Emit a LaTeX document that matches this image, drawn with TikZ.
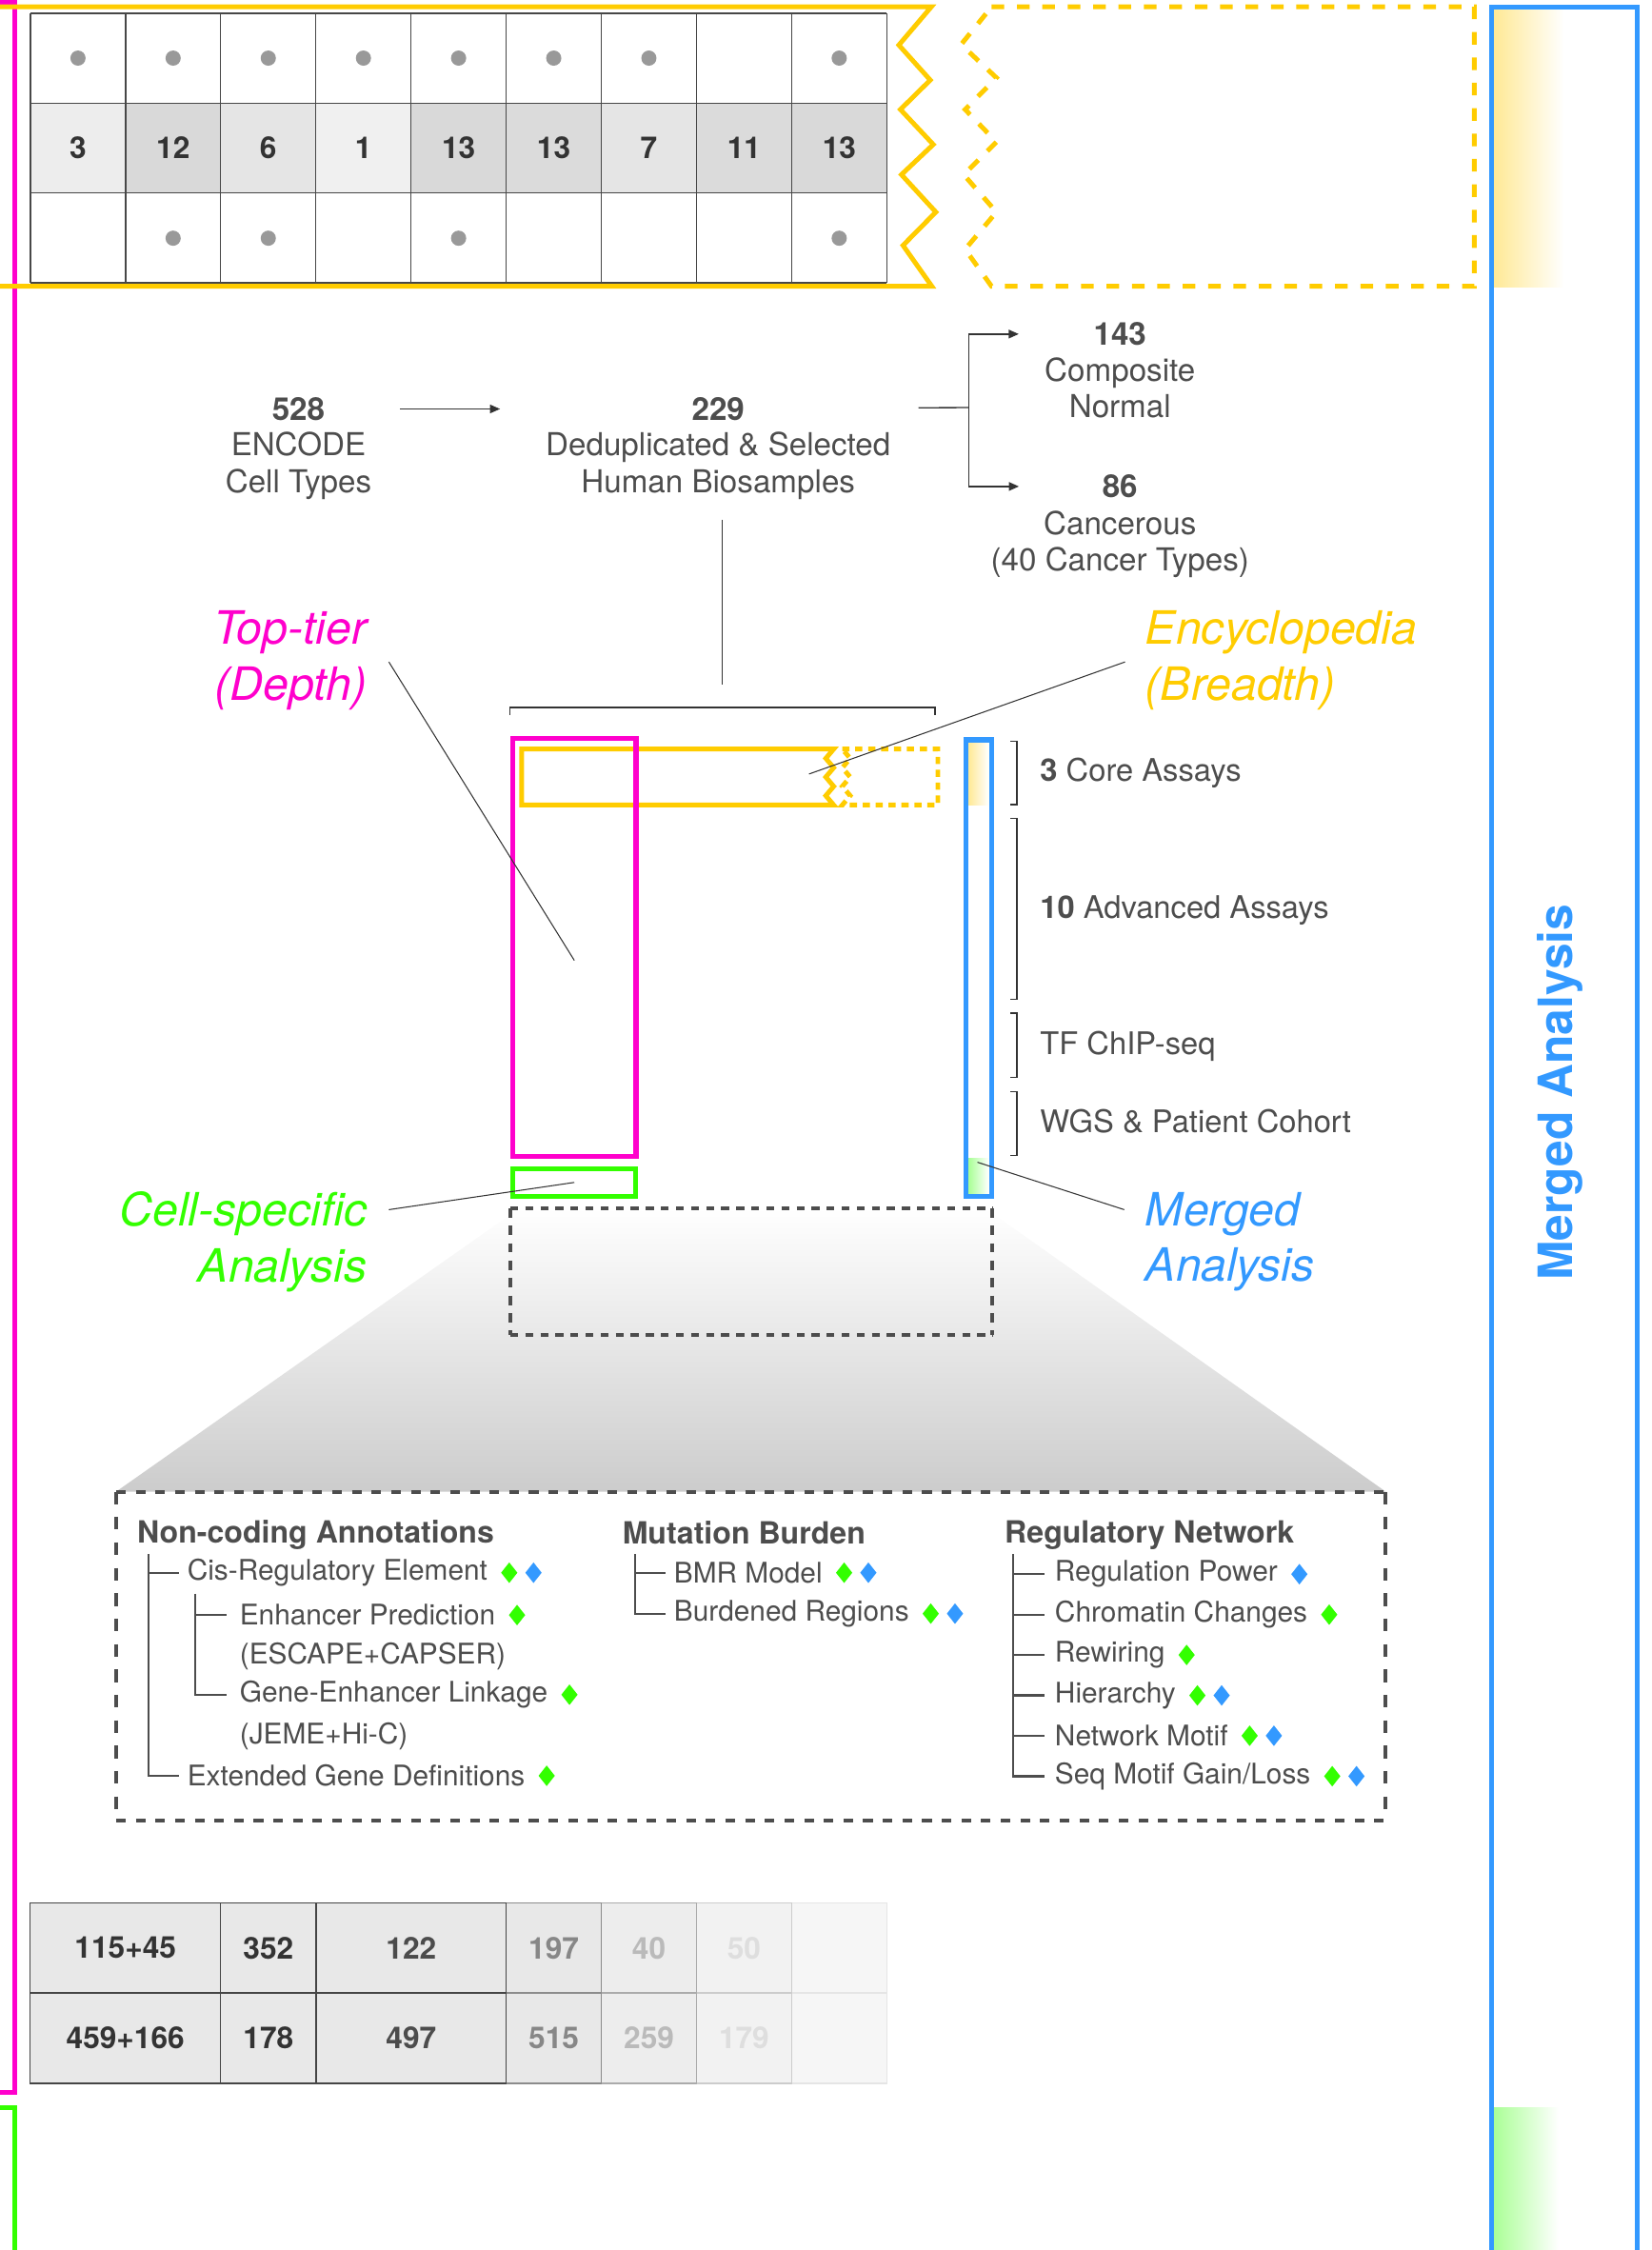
\documentclass[tikz,border=0pt]{standalone}
\usepackage{fontspec}
\setmainfont{TeX Gyre Heros}
\usetikzlibrary{positioning,shapes.geometric,arrows.meta}

\definecolor{inkgray}{HTML}{4D4D4D}
\definecolor{inkdark}{HTML}{333333}
\definecolor{toppink}{HTML}{FF00CC}
\definecolor{breadthyellow}{HTML}{FFCC00}
\definecolor{cellgreen}{HTML}{33FF00}
\definecolor{mergeblue}{HTML}{3399FF}
\definecolor{fadeyellow}{RGB}{255,233,150}
\definecolor{fadegreen}{RGB}{170,255,150}
\definecolor{trapgray}{HTML}{CCCCCC}
\definecolor{dotgray}{HTML}{999999}

\tikzset{
  flowtext/.style={font=\fontsize{22}{25.5}\selectfont, text=inkgray, inner sep=0pt, align=center},
  flownum/.style={font=\fontsize{22}{25.5}\selectfont\bfseries, text=inkgray, inner sep=0pt},
  tagtext/.style={font=\fontsize{32}{39}\selectfont\itshape, inner sep=0pt},
  assaytext/.style={font=\fontsize{21.7}{25.5}\selectfont, text=inkgray, inner sep=0pt, anchor=west},
  headtext/.style={font=\fontsize{21.3}{25}\selectfont\bfseries, text=inkgray, inner sep=0pt, anchor=west},
  itemtext/.style={font=\fontsize{19.8}{23}\selectfont, text=inkgray, inner sep=0pt, anchor=west},
  cellnum/.style={font=\fontsize{21}{25}\selectfont\bfseries, inner sep=0pt},
  gdia/.style={diamond, fill=cellgreen, inner sep=0pt, minimum width=11.5pt, minimum height=14.5pt},
  bdia/.style={diamond, fill=mergeblue, inner sep=0pt, minimum width=11.5pt, minimum height=14.5pt},
  thickframe/.style={line width=3.3pt},
  flowline/.style={draw=inkdark, line width=0.9pt},
  flowarrow/.style={flowline, -{Triangle[length=7pt,width=6pt]}},
  leader/.style={draw=inkdark, line width=0.7pt},
  treeline/.style={draw=inkgray, line width=1.5pt},
  assaybrk/.style={draw=inkdark, line width=0.9pt},
  gridline/.style={draw=black!72, line width=0.9pt},
}

\begin{document}
\begin{tikzpicture}[x=1pt,y=-1pt]
\useasboundingbox (0,0) rectangle (1151,1568);

% frames cut by the page edge
\draw[thickframe, toppink] (-10,1.5) -- (10,1.5) -- (10,1458) -- (-10,1458);
\draw[thickframe, cellgreen] (-10,1469) -- (10,1469) -- (10,1600);
\shade[left color=fadeyellow, right color=white] (1041,6.5) rectangle (1090,200);
\shade[left color=fadegreen, right color=white] (1041,1469) rectangle (1086,1600);
\draw[thickframe, mergeblue] (1039.3,1600) -- (1039.3,4.8) -- (1141,4.8) -- (1141,1600);
\node[rotate=90, font=\fontsize{33}{36}\selectfont\bfseries, text=mergeblue, inner sep=0pt] (mergedtitle) at (1087.5,761.2) {Merged Analysis};

% top grid
\foreach \v/\pc [count=\i from 0] in {3/7,12/15,6/10,1/6,13/15,13/14,7/10,11/14,13/15}
{
  \fill[black!\pc] (21.2+66.31*\i,71.9) rectangle ++(66.31,62.6);
  \node[cellnum, text=inkdark] (mid\i) at (54.35+66.31*\i,103.2) {\v};
}
\foreach \i in {0,...,9} \draw[gridline] (21.2+66.31*\i,9.3) -- (21.2+66.31*\i,197);
\foreach \y in {9.3,71.9,134.5,197} \draw[gridline] (21.2,\y) -- (618,\y);
\foreach \i in {0,1,2,3,4,5,6,8} \fill[dotgray] (54.35+66.31*\i,40.5) circle (5.3pt);
\foreach \i in {1,2,4,8} \fill[dotgray] (54.35+66.31*\i,166) circle (5.3pt);
\draw[thickframe, breadthyellow] (-10,4.8) -- (649,4.8) -- (626.4,31.4) -- (648.3,55.8) -- (627.5,76.3) -- (650.4,100.7) -- (628.2,121.7) -- (652.2,147.8) -- (629.3,171) -- (649.4,199.5) -- (-10,199.5);
\draw[thickframe, breadthyellow, dash pattern=on 8.8pt off 8.9pt] (691,4.8) -- (1027.5,4.8) -- (1027.5,199.5) -- (691,199.5) -- (672.6,173.7) -- (694.4,147.8) -- (671.6,121.7) -- (694.4,99) -- (672.6,76.3) -- (694.4,54.2) -- (669.8,31) -- cycle;

% sample flow
\node[flownum] (n528) at (208,285) {528};
\node[flowtext] (encode) at (208,324.7) {ENCODE\\Cell Types};
\node[flownum] (n229) at (500.5,285) {229};
\node[flowtext] (dedup) at (500.5,324.5) {Deduplicated \& Selected\\Human Biosamples};
\node[flownum] (n143) at (780.5,232.8) {143};
\node[flowtext] (normal) at (780.5,270.3) {Composite\\Normal};
\node[flownum] (n86) at (780.5,339) {86};
\node[flowtext] (cancer) at (780.5,379.5) {Cancerous\\(40 Cancer Types)};
\coordinate (split) at (675.3,284);
\coordinate (stemtop) at (503,362);
\coordinate (brk) at (503,493);
\draw[flowarrow, shorten <=52pt, shorten >=133.5pt] (n528) -- (n229);
\draw[flowline, shorten <=121pt] (n229) -- (split);
\draw[flowarrow, shorten >=52pt] (split) |- (n143);
\draw[flowarrow, shorten >=58pt] (split) |- (n86);
\draw[leader, shorten >=16pt] (stemtop) -- (brk);
\draw[flowline, line width=1.2pt] (355.3,498) -- (355.3,493) -- (651.4,493) -- (651.4,498);

% assay boxes
\draw[breadthyellow, line width=3.3pt] (581,522) -- (363.6,522) -- (363.6,561) -- (581,561) -- (575.5,554.5) -- (581,548) -- (575.5,541.5) -- (581,535) -- (575.5,528.5) -- cycle;
\draw[breadthyellow, line width=3.3pt, dash pattern=on 5pt off 4pt] (587,522) -- (653.6,522) -- (653.6,561) -- (587,561) -- (592.5,554.5) -- (587,548) -- (592.5,541.5) -- (587,535) -- (592.5,528.5) -- cycle;
\node[draw=toppink, line width=3.5pt, minimum width=85.9pt, minimum height=291.2pt, inner sep=0pt] (depthbox) at (400.25,660.3) {};
\node[draw=cellgreen, line width=3.4pt, minimum width=85.9pt, minimum height=19.2pt, inner sep=0pt] (cellbox) at (400.25,824) {};
\shade[left color=fadeyellow, right color=white] (675,517.5) rectangle (689,561);
\shade[left color=fadegreen, right color=white] (675,807) rectangle (689,832);
\node[draw=mergeblue, line width=3.5pt, minimum width=18.2pt, minimum height=318.3pt, inner sep=0pt] (mergebar) at (682.2,674.75) {};

\draw[assaybrk] (704.3,516.4) -- (708.7,516.4) -- (708.7,560.7) -- (704.3,560.7);
\draw[assaybrk] (704.3,570.5) -- (708.7,570.5) -- (708.7,696.6) -- (704.3,696.6);
\draw[assaybrk] (704.3,706) -- (708.7,706) -- (708.7,751) -- (704.3,751);
\draw[assaybrk] (704.3,760.9) -- (708.7,760.9) -- (708.7,805.2) -- (704.3,805.2);
\node[assaytext] (core) at (724.7,538.9) {\textbf{3} Core Assays};
\node[assaytext] (advanced) at (724.7,634.2) {\textbf{10} Advanced Assays};
\node[assaytext] (chip) at (724.7,729) {TF ChIP-seq};
\node[assaytext] (wgs) at (724.7,781.5) {WGS \& Patient Cohort};

% labels and leaders
\node[tagtext, text=toppink, align=right, anchor=east] (toptier) at (256,460.3) {Top-tier\\(Depth)};
\node[tagtext, text=breadthyellow, align=left, anchor=west] (breadth) at (798,460) {Encyclopedia\\(Breadth)};
\node[tagtext, text=cellgreen, align=right, anchor=east] (cellspec) at (256,865.4) {Cell-specific\\Analysis};
\node[tagtext, text=mergeblue, align=left, anchor=west] (merged) at (798,865.4) {Merged\\Analysis};
\coordinate (breadthpt) at (563.8,539.4);
\draw[leader] ([xshift=15pt,yshift=-1pt]toptier.east) -- ([yshift=-9pt]depthbox.center);
\draw[leader] ([xshift=-14pt,yshift=-1.3pt]breadth.west) -- (breadthpt);
\draw[leader] ([xshift=15pt,yshift=22.4pt]cellspec.east) -- (cellbox.center);
\draw[leader] ([xshift=-14.5pt,yshift=22.4pt]merged.west) -- ([xshift=-1pt,yshift=25.7pt]mergebar.south);

% zoom funnel
\shade[top color=white, bottom color=trapgray] (362,842) -- (686.7,842) -- (965.7,1039.5) -- (80.9,1039.5) -- cycle;
\draw[inkgray, line width=2.7pt, dash pattern=on 5.5pt off 5pt] (355.6,841.9) -- (691.7,841.9) (355.6,930.4) -- (691.7,930.4);
\draw[inkgray, line width=2.7pt, dash pattern=on 6.6pt off 5.6pt] (355.6,841.9) -- (355.6,930.4) (691.7,841.9) -- (691.7,930.4);
\draw[inkgray, line width=2.7pt, dash pattern=on 6.7pt off 7pt] (80.9,1039.5) -- (965.7,1039.5) (80.9,1269) -- (965.7,1269);
\draw[inkgray, line width=2.7pt, dash pattern=on 8.8pt off 8.9pt] (80.9,1039.5) -- (80.9,1269) (965.7,1039.5) -- (965.7,1269);

% non-coding annotations
\node[headtext] (nca) at (95.5,1069.6) {Non-coding Annotations};
\node[itemtext] (cis) at (130.4,1096) {Cis-Regulatory Element};
\node[itemtext] (enh) at (166.9,1125.5) {Enhancer Prediction};
\node[itemtext] (escape) at (166.9,1154) {(ESCAPE+CAPSER)};
\node[itemtext] (link) at (166.9,1181) {Gene-Enhancer Linkage};
\node[itemtext] (jeme) at (166.9,1210) {(JEME+Hi-C)};
\node[itemtext] (ext) at (130.4,1237.5) {Extended Gene Definitions};
\coordinate (ncatrunk) at (103.4,1083);
\coordinate (cistrunk) at (136.1,1110.7);
\draw[treeline] (ncatrunk) |- ([xshift=-5.7pt]cis.west);
\draw[treeline] (ncatrunk) |- ([xshift=-5.7pt]ext.west);
\draw[treeline] (cistrunk) |- ([xshift=-9pt]enh.west);
\draw[treeline] (cistrunk) |- ([xshift=-9pt]link.west);
\node[gdia, right=9pt of cis] (cisg) {};
\node[bdia, right=5pt of cisg] (cisb) {};
\node[gdia, right=9pt of enh] (enhg) {};
\node[gdia, right=9pt of link] (linkg) {};
\node[gdia, right=9pt of ext] (extg) {};

% mutation burden
\node[headtext] (mb) at (433.6,1068) {Mutation Burden};
\node[itemtext] (bmr) at (469.5,1096) {BMR Model};
\node[itemtext] (burd) at (469.5,1124.5) {Burdened Regions};
\coordinate (mbtrunk) at (442.5,1083);
\draw[treeline] (mbtrunk) |- ([xshift=-5.7pt]bmr.west);
\draw[treeline] (mbtrunk) |- ([xshift=-5.7pt]burd.west);
\node[gdia, right=9pt of bmr] (bmrg) {};
\node[bdia, right=5pt of bmrg] (bmrb) {};
\node[gdia, right=9pt of burd] (burdg) {};
\node[bdia, right=5pt of burdg] (burdb) {};

% regulatory network
\node[headtext] (rn) at (700,1069.6) {Regulatory Network};
\node[itemtext] (power) at (735,1097) {Regulation Power};
\node[itemtext] (chrom) at (735,1125.2) {Chromatin Changes};
\node[itemtext] (rewire) at (735,1153.3) {Rewiring};
\node[itemtext] (hier) at (735,1181.5) {Hierarchy};
\node[itemtext] (netmotif) at (735,1209.6) {Network Motif};
\node[itemtext] (seqmotif) at (735,1237.8) {Seq Motif Gain/Loss};
\coordinate (rntrunk) at (705.8,1083);
\draw[treeline] (rntrunk) |- ([xshift=-7pt]power.west);
\draw[treeline] (rntrunk) |- ([xshift=-7pt]chrom.west);
\draw[treeline] (rntrunk) |- ([xshift=-7pt]rewire.west);
\draw[treeline] (rntrunk) |- ([xshift=-7pt]hier.west);
\draw[treeline] (rntrunk) |- ([xshift=-7pt]netmotif.west);
\draw[treeline] (rntrunk) |- ([xshift=-7pt]seqmotif.west);
\node[bdia, right=9pt of power] (powerb) {};
\node[gdia, right=9pt of chrom] (chromg) {};
\node[gdia, right=9pt of rewire] (rewireg) {};
\node[gdia, right=9pt of hier] (hierg) {};
\node[bdia, right=5pt of hierg] (hierb) {};
\node[gdia, right=9pt of netmotif] (netg) {};
\node[bdia, right=5pt of netg] (netb) {};
\node[gdia, right=9pt of seqmotif] (seqg) {};
\node[bdia, right=5pt of seqg] (seqb) {};

% bottom counts, fading to the right
\foreach \xa/\xb/\fillc/\bordc/\txtc/\ra/\rb [count=\k] in {
  551.6/617.9/3.5/10/10/{}/{},
  485.4/551.6/5/20/13/50/179,
  419.1/485.4/7/33/27/40/259,
  352.8/419.1/9/45/47/197/515,
  220.3/352.8/9/73/70/122/497,
  153.7/220.3/9/73/80/352/178,
  21.1/153.7/9/73/80/115+45/459+166}
{
  \filldraw[fill=black!\fillc, draw=black!\bordc, line width=0.9pt] (\xa,1326) rectangle (\xb,1388.9);
  \filldraw[fill=black!\fillc, draw=black!\bordc, line width=0.9pt] (\xa,1388.9) rectangle (\xb,1451.9);
  \node[cellnum, text=black!\txtc] (cnta\k) at ({(\xa+\xb)/2},1357.5) {\ra};
  \node[cellnum, text=black!\txtc] (cntb\k) at ({(\xa+\xb)/2},1420.4) {\rb};
}
\end{tikzpicture}
\end{document}
